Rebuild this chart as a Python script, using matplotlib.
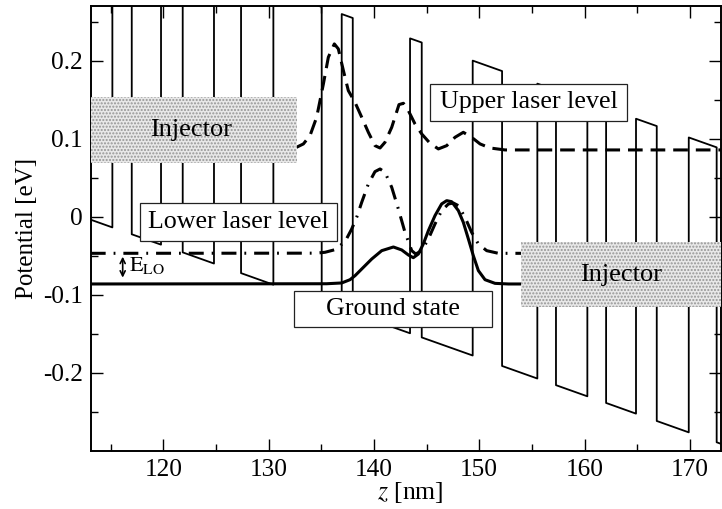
import matplotlib
matplotlib.use('Agg')
import matplotlib.pyplot as plt
from matplotlib.patches import Rectangle
from matplotlib.ticker import FixedLocator, MultipleLocator, FuncFormatter

# layer interfaces [nm]; layers alternate well / barrier, starting with a well
layer_z = [113.1, 115.16, 117.0, 119.78, 121.84, 124.81, 127.38, 130.45,
           135.04, 136.94, 137.99, 143.43, 144.54, 149.38, 152.17, 155.52,
           157.29, 160.27, 162.05, 164.89, 166.86, 169.9, 172.55, 173.0]
# conduction band (well floor) at each interface [eV], tilted by the field
well_floor = [-0.0039, -0.0138, -0.0226, -0.0359, -0.0458, -0.0601, -0.0724,
              -0.0872, -0.1092, -0.1183, -0.1234, -0.1495, -0.1548, -0.1780,
              -0.1914, -0.2075, -0.2160, -0.2303, -0.2388, -0.2525, -0.2619,
              -0.2765, -0.2892, -0.2914]
barrier_height = 0.378

# |psi|^2 of the three levels, drawn on top of their energies
upper_z = [113.1, 131.0, 132.51, 133.30, 133.93, 134.56, 135.20, 135.67, 136.24,
           136.62, 137.10, 137.57, 138.20, 138.84, 139.47, 140.10, 140.58,
           141.05, 141.69, 142.38, 142.80, 143.27, 143.90, 144.54, 145.33,
           146.12, 146.91, 147.70, 148.49, 149.28, 150.08, 151.03, 152.45, 173.0]
upper_v = [0.0855, 0.0858, 0.0880, 0.0932, 0.1039, 0.1274, 0.1701, 0.2043, 0.2214,
           0.2150, 0.1872, 0.1615, 0.1466, 0.1274, 0.1081, 0.0910, 0.0880,
           0.0953, 0.1145, 0.1436, 0.1453, 0.1359, 0.1188, 0.1060, 0.0940,
           0.0868, 0.0910, 0.1017, 0.1081, 0.1017, 0.0932, 0.0880, 0.0855, 0.0855]

lower_z = [113.1, 134.5, 135.35, 136.31, 137.26, 137.89, 138.36, 138.84, 139.47,
           140.10, 140.58, 141.05, 141.69, 142.32, 142.95, 143.59, 143.97,
           144.54, 145.17, 145.80, 146.43, 147.07, 147.54, 148.02, 148.65,
           149.28, 149.92, 150.71, 151.82, 173.0]
lower_v = [-0.047, -0.0468, -0.0457, -0.0423, -0.0320, -0.0158, -0.0009, 0.0184, 0.0419,
           0.0577, 0.0611, 0.0569, 0.0376, 0.0098, -0.0201, -0.0436, -0.0479,
           -0.0436, -0.0286, -0.0094, 0.0077, 0.0162, 0.0175, 0.0141, -0.0009,
           -0.0201, -0.0350, -0.0436, -0.0470, -0.0470]

ground_z = [113.1, 135.5, 136.94, 137.73, 138.21, 138.84, 139.79, 140.74, 141.85,
            142.64, 143.27, 143.74, 144.22, 144.69, 145.17, 145.80, 146.43,
            146.91, 147.38, 148.02, 148.49, 148.97, 149.44, 149.92, 150.55,
            151.50, 152.77, 173.0]
ground_v = [-0.0863, -0.0860, -0.0850, -0.0808, -0.0756, -0.0671, -0.0543, -0.0436, -0.0389,
            -0.0427, -0.0491, -0.0526, -0.0479, -0.0350, -0.0180, 0.0013, 0.0163,
            0.0205, 0.0192, 0.0077, -0.0073, -0.0286, -0.0500, -0.0692, -0.0808,
            -0.0855, -0.0863, -0.0863]

y_major = [-0.2, -0.1, 0.0, 0.1, 0.2]
y_minor = [-0.25, -0.15, -0.05, 0.05, 0.15, 0.25]

plt.rcParams['font.family'] = ['Liberation Serif', 'DejaVu Serif']
plt.rcParams['mathtext.fontset'] = 'stix'
plt.rcParams['axes.unicode_minus'] = False

fig = plt.figure(figsize=(7.22, 5.09), dpi=100)
ax = fig.add_axes([91 / 722, 1 - 450.7 / 509, 630.4 / 722, 444.7 / 509])

# band profile: flat-topped barriers and wells joined by vertical steps
pz, pv = [], []
for i in range(len(layer_z) - 1):
    off = barrier_height if i % 2 else 0.0
    pz += [layer_z[i], layer_z[i + 1]]
    pv += [well_floor[i] + off, well_floor[i + 1] + off]
ax.plot(pz, pv, color='k', lw=1.3, zorder=1)

ax.plot(upper_z, upper_v, color='k', lw=2.2, ls=(0, (4.8, 2.6)), zorder=2)
ax.plot(lower_z, lower_v, color='k', lw=2.2, ls=(0, (4.9, 2.6, 0.6, 2.6)), zorder=2)
ax.plot(ground_z, ground_v, color='k', lw=2.2, zorder=2)


def stipple_box(x0, x1, y0, y1, text, tx):
    ax.add_patch(Rectangle((x0, y0), x1 - x0, y1 - y0, facecolor='#e8e8e8',
                           edgecolor='#959595', hatch='.....', lw=0, zorder=3))
    ax.text(tx, (y0 + y1) / 2, text, ha='center', va='center', fontsize=19, zorder=4)


def label_box(x0, x1, y0, y1, text):
    ax.add_patch(Rectangle((x0, y0), x1 - x0, y1 - y0, facecolor='white',
                           edgecolor='#222222', lw=0.9, zorder=3))
    ax.text((x0 + x1) / 2, (y0 + y1) / 2, text, ha='center', va='center',
            fontsize=18.7, zorder=4)


stipple_box(113.1, 132.72, 0.0688, 0.153, 'Injector', 122.6)
stipple_box(153.94, 174.0, -0.1154, -0.033, 'Injector', 163.5)
label_box(145.34, 164.08, 0.1231, 0.1701, 'Upper laser level')
label_box(117.79, 136.52, -0.0308, 0.0171, 'Lower laser level')
label_box(132.41, 151.22, -0.141, -0.0949, 'Ground state')

# LO-phonon spacing between lower level and ground state
ax.annotate('', xy=(116.14, -0.0513), xytext=(116.14, -0.0782),
            arrowprops=dict(arrowstyle='<->', color='k', lw=1.2,
                            mutation_scale=9, shrinkA=0, shrinkB=0), zorder=4)
ax.text(116.75, -0.063, r'$\mathrm{E}_{\mathrm{LO}}$', ha='left', va='center',
        fontsize=16, zorder=4)

ax.set_xlim(113.13, 173.0)
ax.set_ylim(-0.3, 0.27)
ax.xaxis.set_major_locator(MultipleLocator(10))
ax.xaxis.set_minor_locator(MultipleLocator(5))
ax.yaxis.set_major_locator(FixedLocator(y_major))
ax.yaxis.set_minor_locator(FixedLocator(y_minor))
ax.yaxis.set_major_formatter(FuncFormatter(lambda v, p: '%g' % round(v, 3)))
ax.tick_params(which='both', direction='in', top=True, right=True,
               labelsize=18.2, width=1.0)
ax.tick_params(which='major', length=8.9, pad=6)
ax.tick_params(which='minor', length=4.8)
for s in ax.spines.values():
    s.set_linewidth(1.4)

ax.set_xlabel(r'$z$ [nm]', fontsize=18.5)
ax.set_ylabel('Potential [eV]', fontsize=18)
ax.xaxis.set_label_coords(0.506, -0.066)
ax.yaxis.set_label_coords(-0.084, 0.5)

fig.savefig('out.png', dpi=100)
